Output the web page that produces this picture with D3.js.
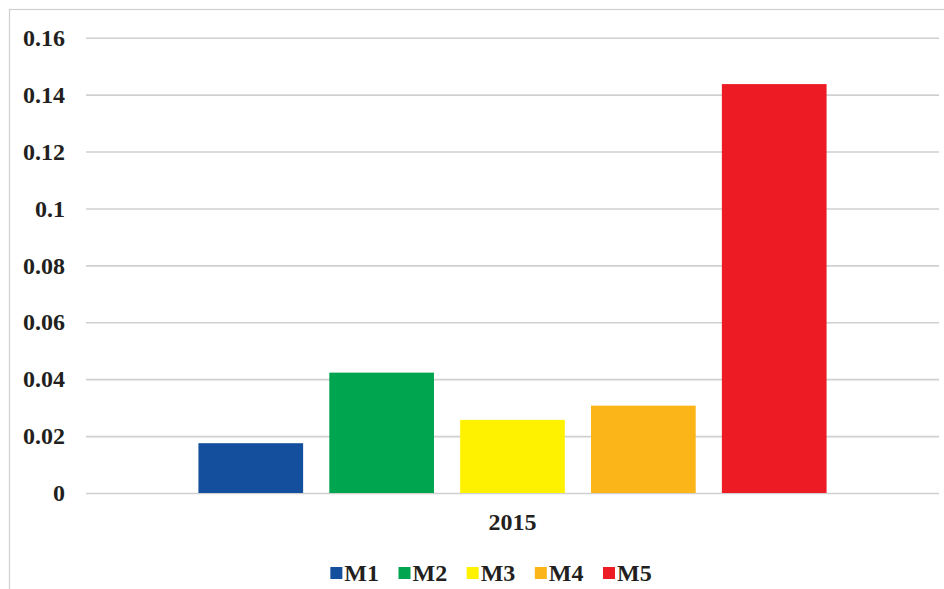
<!DOCTYPE html>
<html>
<head>
<meta charset="utf-8">
<script src="https://cdn.jsdelivr.net/npm/d3@7"></script>
<style>
  html, body { margin: 0; padding: 0; background: #fff; }
  svg { display: block; }
  svg text { font-family: "Liberation Serif", "Times New Roman", Times, serif; font-weight: bold; }
</style>
</head>
<body>
<svg id="chart" width="944" height="589"></svg>
<script>
// Series and values for the single year shown
const categories = ["2015"];
const seriesNames = ["M1", "M2", "M3", "M4", "M5"];
const seriesValues = [0.0175, 0.0423, 0.0257, 0.0307, 0.1437];
const seriesColors = ["#134f9c", "#00a550", "#fff200", "#fbb519", "#ed1c24"];
const yTicks = [0, 0.02, 0.04, 0.06, 0.08, 0.1, 0.12, 0.14, 0.16];

const svg = d3.select("#chart");
const W = 944, H = 589;
const plot = { left: 86, right: 939, top: 37.7, bottom: 493 };
const textColor = "#231f20";

// Outer frame
svg.append("rect")
  .attr("x", 9.5).attr("y", 9.5)
  .attr("width", W + 10).attr("height", H + 10)
  .attr("fill", "#fff")
  .attr("stroke", "#cfcfcf").attr("stroke-width", 1.2);

const y = d3.scaleLinear().domain([0, 0.16]).range([plot.bottom, plot.top]);
const x0 = d3.scaleBand().domain(categories).range([plot.left, plot.right])
  .paddingInner(0).paddingOuter(0.179);
const x1 = d3.scaleBand().domain(seriesNames).range([0, x0.bandwidth()])
  .paddingInner(0.2).paddingOuter(0);

// Gridlines and y tick labels
const yAxis = d3.axisLeft(y).tickValues(yTicks)
  .tickSize(-(plot.right - plot.left)).tickPadding(21)
  .tickFormat(d => String(+d.toFixed(2)));
const gy = svg.append("g").attr("transform", `translate(${plot.left},0)`).call(yAxis);
gy.attr("font-family", null);
gy.select(".domain").remove();
gy.selectAll(".tick line").attr("stroke", "#d0d0d0").attr("stroke-width", 1.6);
gy.selectAll(".tick text")
  .attr("font-size", 24).attr("fill", textColor);

// Bars
const group = svg.append("g").selectAll("g").data(categories).join("g")
  .attr("transform", d => `translate(${x0(d)},0)`);
group.selectAll("rect")
  .data(() => seriesNames.map((s, i) => ({ name: s, value: seriesValues[i], color: seriesColors[i] })))
  .join("rect")
  .attr("x", d => x1(d.name))
  .attr("width", x1.bandwidth())
  .attr("y", d => y(d.value))
  .attr("height", d => y(0) - y(d.value))
  .attr("fill", d => d.color);

// Category label
const xAxis = d3.axisBottom(x0).tickSize(0).tickPadding(20);
const gx = svg.append("g").attr("transform", `translate(0,${plot.bottom})`).call(xAxis);
gx.attr("font-family", null);
gx.select(".domain").remove();
gx.selectAll(".tick text")
  .attr("font-size", 24).attr("fill", textColor);

// Legend, centred below the category label
const legend = svg.append("g");
const items = legend.selectAll("g").data(seriesNames).join("g");
items.append("rect").attr("width", 12).attr("height", 12).attr("y", -6)
  .attr("fill", (d, i) => seriesColors[i]);
items.append("text").attr("x", 14).attr("dy", "0.35em")
  .attr("font-size", 24).attr("fill", textColor)
  .text(d => d);
let cx = 0;
const gap = 19.5;
items.each(function () {
  const g = d3.select(this);
  g.attr("transform", `translate(${cx},0)`);
  cx += 14 + g.select("text").node().getComputedTextLength() + gap;
});
const totalW = cx - gap;
legend.attr("transform", `translate(${491 - totalW / 2},573)`);
</script>
</body>
</html>
